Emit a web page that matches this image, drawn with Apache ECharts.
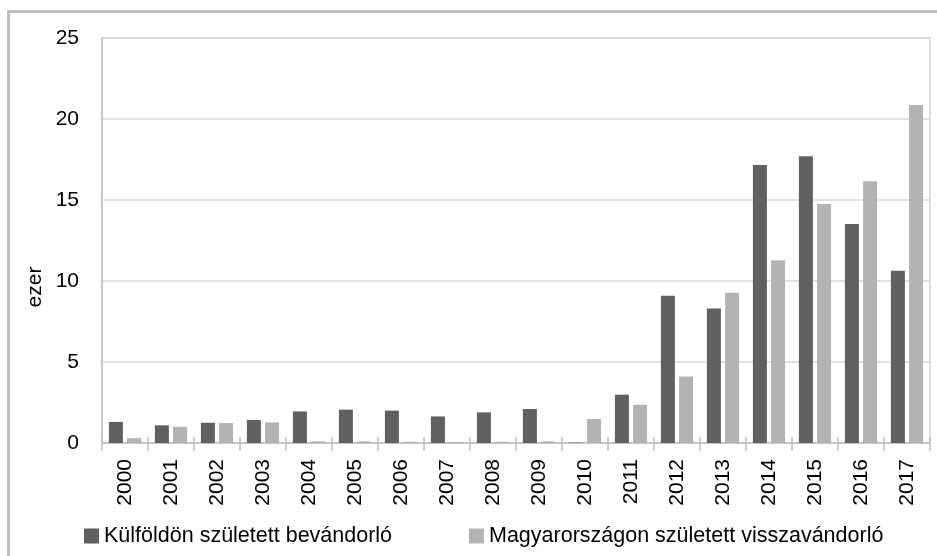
<!DOCTYPE html>
<html>
<head>
<meta charset="utf-8">
<script src="https://cdn.jsdelivr.net/npm/echarts@6/dist/echarts.min.js"></script>
<style>
  html, body { margin: 0; padding: 0; background: #fff; }
  #chart { width: 937px; height: 556px; }
</style>
</head>
<body>
<div id="chart"></div>
<script>
const years = ['2000', '2001', '2002', '2003', '2004', '2005', '2006', '2007', '2008',
  '2009', '2010', '2011', '2012', '2013', '2014', '2015', '2016', '2017'];
// ezer fő
const kulfoldon = [1.30, 1.09, 1.25, 1.42, 1.95, 2.06, 2.00, 1.64, 1.89,
  2.10, 0.02, 2.98, 9.09, 8.31, 17.16, 17.70, 13.52, 10.64];
const magyarorszagon = [0.30, 1.00, 1.23, 1.27, 0.10, 0.10, 0.08, 0.07, 0.08,
  0.10, 1.48, 2.36, 4.11, 9.28, 11.28, 14.75, 16.15, 20.86];
const yTicks = { min: 0, max: 25, interval: 5 };

const font = 'Liberation Sans, Arial, sans-serif';
const chart = echarts.init(document.getElementById('chart'));

chart.setOption({
  animation: false,
  backgroundColor: '#fff',
  grid: {
    left: 102, right: 7, top: 38, bottom: 113,
    show: true, borderColor: '#bfbfbf', borderWidth: 1, backgroundColor: 'transparent'
  },
  legend: [
    {
      data: ['Külföldön született bevándorló'],
      left: 79, top: 520,
      icon: 'rect', itemWidth: 15, itemHeight: 15,
      textStyle: { fontFamily: font, fontSize: 21.5, color: '#000' }
    },
    {
      data: ['Magyarországon született visszavándorló'],
      left: 464, top: 520,
      icon: 'rect', itemWidth: 15, itemHeight: 15,
      textStyle: { fontFamily: font, fontSize: 21.5, color: '#000' }
    }
  ],
  xAxis: [
    {
      type: 'category',
      data: years,
      axisLine: { lineStyle: { color: '#bfbfbf', width: 1.5 } },
      axisTick: { show: true, length: 8, lineStyle: { color: '#bfbfbf', width: 1.5 } },
      axisLabel: {
        rotate: 90, margin: 16,
        fontFamily: font, fontSize: 21, color: '#000'
      }
    },
    {
      type: 'category',
      data: years,
      position: 'bottom',
      axisLine: { show: false },
      axisTick: { show: true, inside: true, length: 6, lineStyle: { color: '#bfbfbf', width: 1.5 } },
      axisLabel: { show: false }
    }
  ],
  yAxis: {
    type: 'value',
    min: yTicks.min, max: yTicks.max, interval: yTicks.interval,
    axisLine: { show: true, lineStyle: { color: '#bfbfbf', width: 1.5 } },
    axisTick: { show: false },
    splitLine: { lineStyle: { color: '#d9d9d9', width: 1.5 } },
    axisLabel: { margin: 23, fontFamily: font, fontSize: 21, color: '#000' }
  },
  graphic: [
    {
      type: 'rect',
      shape: { x: 8.5, y: 11.5, width: 1000, height: 1000 },
      style: { fill: 'none', stroke: '#bfbfbf', lineWidth: 3 },
      silent: true
    },
    {
      type: 'text',
      x: 35, y: 287,
      rotation: Math.PI / 2,
      style: {
        text: 'ezer', fontFamily: font, fontSize: 21, fill: '#000',
        align: 'center', verticalAlign: 'middle'
      }
    }
  ],
  series: [
    {
      name: 'Külföldön született bevándorló',
      type: 'bar',
      data: kulfoldon,
      barWidth: 14,
      barGap: '30%',
      itemStyle: { color: '#606060' }
    },
    {
      name: 'Magyarországon született visszavándorló',
      type: 'bar',
      data: magyarorszagon,
      barWidth: 14,
      itemStyle: { color: '#b3b3b3' }
    }
  ]
});
</script>
</body>
</html>
